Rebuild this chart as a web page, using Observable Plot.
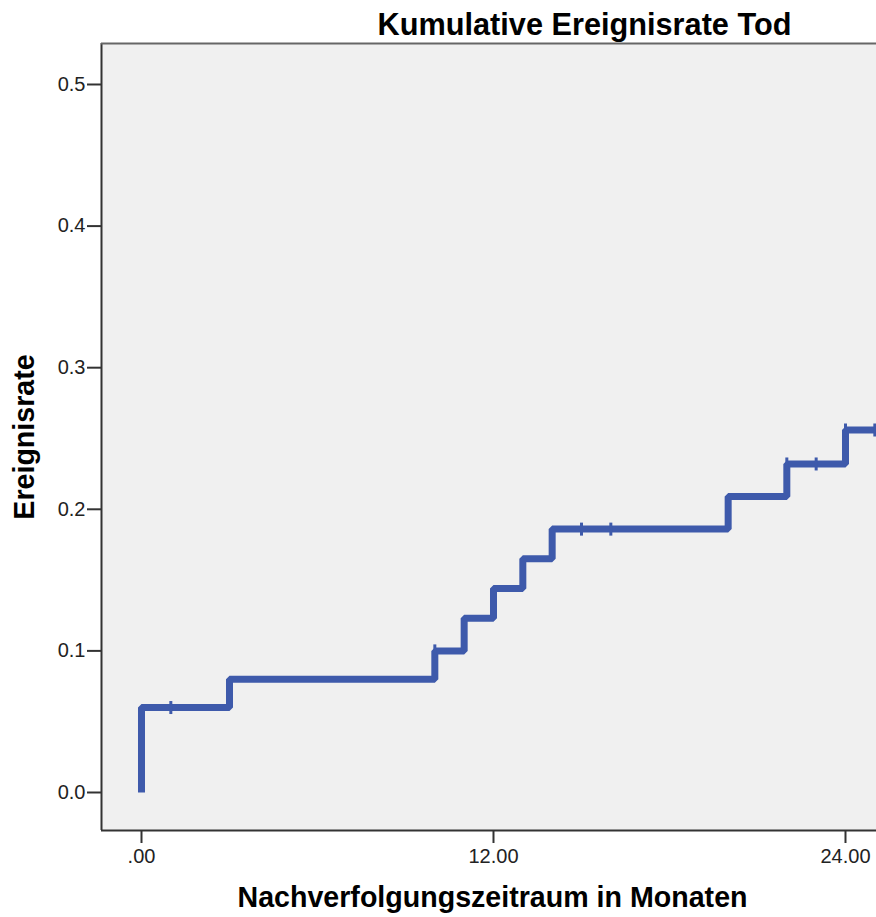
<!DOCTYPE html>
<html>
<head>
<meta charset="utf-8">
<script src="https://cdn.jsdelivr.net/npm/d3@7"></script>
<script src="https://cdn.jsdelivr.net/npm/@observablehq/plot@0.6"></script>
<style>
  html, body { margin: 0; padding: 0; background: #ffffff; overflow: hidden; }
  #chart svg { display: block; }
  #chart svg g[aria-label*="axis"] text { font-size: 20px !important; }
</style>
</head>
<body>
<div id="chart"></div>
<script>
// ---- data ----
const title = "Kumulative Ereignisrate Tod";
const xLabel = "Nachverfolgungszeitraum in Monaten";
const yLabel = "Ereignisrate";
const eventTimes = [0, 3, 10, 11, 12, 13, 14, 20, 22, 24];
const eventRates = [0.060, 0.080, 0.100, 0.123, 0.144, 0.165, 0.186, 0.209, 0.232, 0.256];
const censorTimes = [1, 10, 15, 16, 22, 23, 24, 25];
const censorRates = [0.060, 0.100, 0.186, 0.186, 0.232, 0.232, 0.256, 0.256];
const startRate = 0;
const endTime = 25;
const xTicks = [0, 12, 24];
const yTicks = [0, 0.1, 0.2, 0.3, 0.4, 0.5];

// ---- tables built from the arrays ----
const stepData = [{t: 0, r: startRate}]
  .concat(eventTimes.map((t, i) => ({t, r: eventRates[i]})))
  .concat([{t: endTime, r: eventRates[eventRates.length - 1]}]);
const censorData = censorTimes.map((t, i) => ({t, r: censorRates[i]}));

const xDomain = [-1.3636, 25.057];
const yDomain = [-0.02684, 0.52895];
const blue = "#3e5aab";
const axisColor = "#333333";
const font = "'Liberation Sans', Arial, sans-serif";

const vbar = {
  draw(ctx, size) {
    const r = Math.sqrt(size / Math.PI);
    ctx.moveTo(0, -r);
    ctx.lineTo(0, r);
  }
};

const chart = Plot.plot({
  width: 876,
  height: 917,
  marginLeft: 101,
  marginRight: 0,
  marginTop: 43,
  marginBottom: 87,
  style: {fontFamily: font, fontSize: "20px", color: "#222", background: "#ffffff"},
  x: {domain: xDomain, label: null},
  y: {domain: yDomain, label: null},
  marks: [
    Plot.frame({fill: "#f0f0f0", stroke: null}),
    Plot.ruleX([xDomain[0]], {stroke: axisColor, strokeWidth: 2}),
    Plot.ruleY([yDomain[0]], {stroke: axisColor, strokeWidth: 2}),
    Plot.ruleY([yDomain[1]], {stroke: "#666666", strokeWidth: 2}),
    Plot.axisY({
      ticks: yTicks,
      tickFormat: d3.format(".1f"),
      tickSize: 14,
      tickPadding: 2,
      stroke: axisColor,
      strokeWidth: 2,
      fill: "#222",
      fontSize: 20,
      label: null
    }),
    Plot.axisX({
      ticks: xTicks,
      tickFormat: d => d === 0 ? ".00" : d.toFixed(2),
      tickSize: 13,
      tickPadding: 5,
      stroke: axisColor,
      strokeWidth: 2,
      fill: "#222",
      fontSize: 20,
      label: null
    }),
    Plot.line(stepData, {
      x: "t", y: "r",
      curve: "step-after",
      stroke: blue,
      strokeWidth: 7,
      strokeLinejoin: "miter",
      strokeLinecap: "butt"
    }),
    Plot.dot(censorData, {
      x: "t", y: "r",
      symbol: vbar,
      r: 6.5,
      fill: "none",
      stroke: blue,
      strokeWidth: 3
    }),
    Plot.text([title], {
      frameAnchor: "top",
      textAnchor: "middle",
      dx: 95.5,
      dy: -30.5,
      fontSize: 30.7,
      fontWeight: "bold",
      fill: "#000"
    }),
    Plot.text([xLabel], {
      frameAnchor: "bottom",
      textAnchor: "middle",
      dx: 3.5,
      dy: 76,
      fontSize: 28.6,
      fontWeight: "bold",
      fill: "#000"
    }),
    Plot.text([yLabel], {
      frameAnchor: "left",
      textAnchor: "middle",
      rotate: -90,
      dx: -77,
      dy: 0,
      fontSize: 28.6,
      fontWeight: "bold",
      fill: "#000"
    })
  ]
});

document.getElementById("chart").appendChild(chart);
</script>
</body>
</html>
